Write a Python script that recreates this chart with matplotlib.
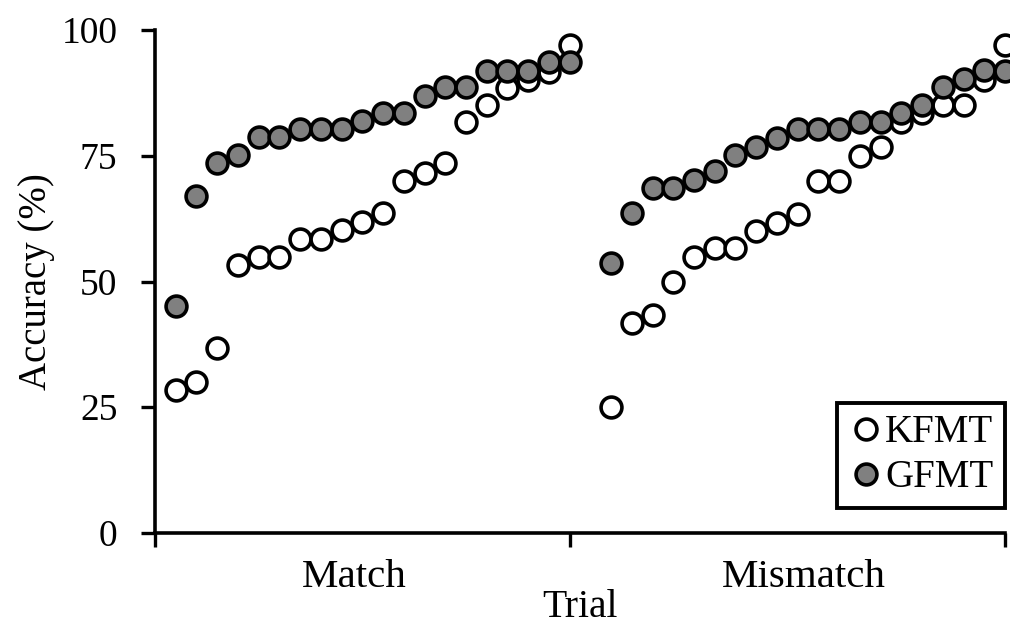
import matplotlib.pyplot as plt

plt.rcParams['font.family'] = ['Liberation Serif', 'DejaVu Serif']

# accuracy (%) per trial, sorted
kfmt_match = [28.4, 30.0, 36.8, 53.3, 54.9, 54.9, 58.4, 58.4, 60.2, 61.8,
              63.6, 70.0, 71.6, 73.6, 81.7, 85.1, 88.5, 90.1, 91.7, 97.0]
gfmt_match = [45.1, 67.0, 73.6, 75.1, 78.7, 78.7, 80.3, 80.3, 80.3, 81.9,
              83.5, 83.5, 86.9, 88.7, 88.7, 91.8, 91.8, 91.8, 93.6, 93.6]
kfmt_mismatch = [25.0, 41.7, 43.3, 49.9, 54.9, 56.6, 56.6, 60.0, 61.6, 63.4,
                 70.0, 70.0, 74.9, 76.7, 81.7, 83.5, 85.1, 85.1, 90.1, 97.0]
gfmt_mismatch = [53.7, 63.6, 68.6, 68.6, 70.2, 72.0, 75.1, 76.7, 78.5, 80.3,
                 80.3, 80.3, 81.7, 81.7, 83.5, 85.1, 88.7, 90.3, 92.0, 91.8]
categories = ["Match", "Mismatch"]

x_match = list(range(1, 21))
x_mismatch = list(range(22, 42))

fig = plt.figure(figsize=(10.1, 6.29), dpi=100)
ax = fig.add_axes([155 / 1010, 1 - 533 / 629, 850 / 1010, 503 / 629])

mk = dict(linestyle="none", marker="o", markersize=15, markeredgewidth=2.6,
          markeredgecolor="black", clip_on=False)
ax.plot(x_match + x_mismatch, kfmt_match + kfmt_mismatch,
        markerfacecolor="white", label="KFMT", **mk)
ax.plot(x_match + x_mismatch, gfmt_match + gfmt_mismatch,
        markerfacecolor="#808080", label="GFMT", **mk)

ax.set_xlim(0, 41)
ax.set_ylim(0, 100)
ax.set_yticks([0, 25, 50, 75, 100])
ax.set_xticks([0, 20, 41])
ax.set_xticklabels([])
ax.set_xticks([9.6, 31.3], minor=True)
ax.set_xticklabels(categories, minor=True)
ax.tick_params(axis="x", which="minor", length=0, pad=19, labelsize=29.5)
ax.tick_params(axis="x", which="major", length=10, width=2.4, direction="out")
ax.tick_params(axis="y", length=10, width=2.4, direction="out", labelsize=27, pad=17)

for s in ["top", "right"]:
    ax.spines[s].set_visible(False)
for s in ["left", "bottom"]:
    ax.spines[s].set_linewidth(2.6)

ax.set_ylabel("Accuracy (%)", fontsize=28, labelpad=5)
ax.set_xlabel("Trial", fontsize=28.5, labelpad=-5)

leg = ax.legend(loc="lower right", bbox_to_anchor=(1.0, 0.05), fontsize=28,
                fancybox=False, framealpha=1, edgecolor="black",
                handlelength=0.9, handletextpad=0.05, borderpad=0.3,
                labelspacing=0.2, borderaxespad=0, markerscale=1.0)
leg.get_frame().set_linewidth(2.8)

fig.savefig("out.png", dpi=100)
